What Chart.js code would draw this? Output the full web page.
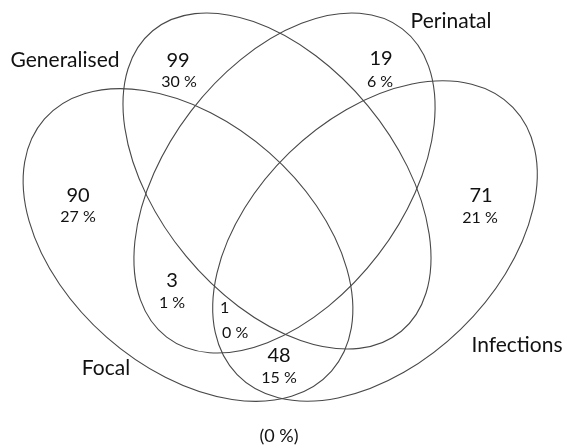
<!DOCTYPE html>
<html lang="en">
<head>
<meta charset="UTF-8">
<title>Venn diagram</title>
<script src="https://cdn.jsdelivr.net/npm/chart.js"></script>
<style>
  html, body { margin: 0; padding: 0; background: #fff; }
  #wrap { width: 565px; height: 447px; position: relative; }
</style>
</head>
<body>
<div id="wrap"><canvas id="venn"></canvas></div>
<script>
// sets and regions of the diagram
const setNames = ['Focal', 'Generalised', 'Perinatal', 'Infections'];
const regionNames = ['Focal only', 'Generalised only', 'Perinatal only', 'Infections only',
                     'Focal + Perinatal', 'Focal + Perinatal + Infections', 'Focal + Infections', 'None'];
const regionCounts = [90, 99, 19, 71, 3, 1, 48, null];
const regionPercents = [27, 30, 6, 21, 1, 0, 15, 0];

// layout, in axis units (both axes run over the picture size)
// ellipse: centre x, centre y, radius x, radius y, rotation in degrees
const ellipseShape = [
  [188, 245, 191, 123, 41.3],
  [277, 181, 195, 118, 50.4],
  [284.5, 183, 194, 118, -52.6],
  [375, 241, 192, 123, -44.1]
];
const setLabelAt = [[106, 375], [65, 67], [451, 28], [517, 352]];
const countAt = [[78, 202], [178, 67], [381, 65], [481, 202], [172, 287], [220, 313], [279, 362], null];
const percentAt = [[78, 222], [179, 87], [380, 87], [480, 223], [172, 308], [222, 338], [279, 383], [279, 442]];
const leftAligned = [5]; // the small "1 / 0 %" region

const FONT = 'Lato, "Noto Sans", sans-serif';
const INK = '#111111';

function pct(i) {
  const s = regionPercents[i] + ' %';
  return regionCounts[i] === null ? '(' + s + ')' : s;
}

const vennPlugin = {
  id: 'venn',
  afterDatasetsDraw(chart) {
    const ctx = chart.ctx;
    const xs = chart.scales.x, ys = chart.scales.y;

    // outlines
    const shapes = chart.getDatasetMeta(0).data;
    ctx.save();
    ctx.strokeStyle = '#484848';
    ctx.lineWidth = 1.1;
    shapes.forEach((pt, i) => {
      const e = ellipseShape[i];
      const rx = Math.abs(xs.getPixelForValue(e[0] + e[2]) - xs.getPixelForValue(e[0]));
      const ry = Math.abs(ys.getPixelForValue(e[1] + e[3]) - ys.getPixelForValue(e[1]));
      ctx.beginPath();
      ctx.ellipse(pt.x, pt.y, rx, ry, e[4] * Math.PI / 180, 0, Math.PI * 2);
      ctx.stroke();
    });

    ctx.fillStyle = INK;
    ctx.textBaseline = 'alphabetic';

    // set names
    ctx.font = '21px ' + FONT;
    ctx.textAlign = 'center';
    chart.getDatasetMeta(1).data.forEach((pt, i) => ctx.fillText(setNames[i], pt.x, pt.y));

    // counts
    const cMeta = chart.getDatasetMeta(2);
    cMeta.data.forEach((pt, j) => {
      const i = chart.data.datasets[2].data[j].r;
      const small = leftAligned.includes(i);
      ctx.font = (small ? '16px ' : '20px ') + FONT;
      ctx.textAlign = small ? 'left' : 'center';
      ctx.fillText(String(regionCounts[i]), pt.x, pt.y);
    });

    // percentages
    const pMeta = chart.getDatasetMeta(3);
    pMeta.data.forEach((pt, j) => {
      const i = chart.data.datasets[3].data[j].r;
      const small = leftAligned.includes(i);
      ctx.font = (i === 7 ? '18px ' : '16px ') + FONT;
      ctx.textAlign = small ? 'left' : 'center';
      ctx.fillText(pct(i), pt.x, pt.y);
    });
    ctx.restore();
  }
};

const hidden = { pointRadius: 0, pointHoverRadius: 0, showLine: false };

new Chart(document.getElementById('venn'), {
  type: 'scatter',
  data: {
    datasets: [
      Object.assign({ label: 'sets', data: ellipseShape.map(e => ({ x: e[0], y: e[1] })) }, hidden),
      Object.assign({ label: 'set names', data: setLabelAt.map(p => ({ x: p[0], y: p[1] })) }, hidden),
      Object.assign({ label: 'counts', data: countAt.map((p, i) => p && { x: p[0], y: p[1], r: i }).filter(Boolean) }, hidden),
      Object.assign({ label: 'percent', data: percentAt.map((p, i) => ({ x: p[0], y: p[1], r: i })) }, hidden)
    ]
  },
  options: {
    responsive: true,
    maintainAspectRatio: false,
    animation: false,
    events: [],
    layout: { padding: 0 },
    plugins: { legend: { display: false }, tooltip: { enabled: false } },
    scales: {
      x: { type: 'linear', min: 0, max: 565, display: false },
      y: { type: 'linear', min: 0, max: 447, reverse: true, display: false }
    }
  },
  plugins: [vennPlugin]
});
</script>
</body>
</html>
